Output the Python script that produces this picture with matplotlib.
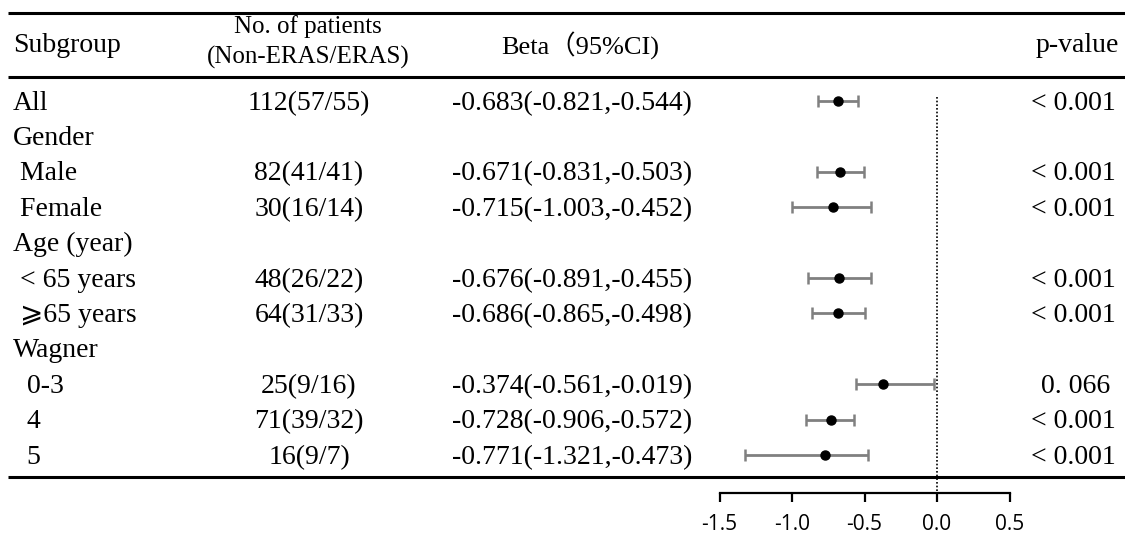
import matplotlib
matplotlib.use('Agg')
import matplotlib.pyplot as plt
import numpy as np

# table data
labels = ['All', 'Gender', ' Male', ' Female', 'Age (year)', ' < 65 years', ' \u2A7E65 years',
          'Wagner', '  0-3', '  4', '  5']
patients = ['112(57/55)', '', '82(41/41)', '30(16/14)', '', '48(26/22)', '64(31/33)',
            '', '25(9/16)', '71(39/32)', '16(9/7)']
beta_txt = ['-0.683(-0.821,-0.544)', '', '-0.671(-0.831,-0.503)', '-0.715(-1.003,-0.452)', '',
            '-0.676(-0.891,-0.455)', '-0.686(-0.865,-0.498)', '',
            '-0.374(-0.561,-0.019)', '-0.728(-0.906,-0.572)', '-0.771(-1.321,-0.473)']
pvals = ['< 0.001', '', '< 0.001', '< 0.001', '', '< 0.001', '< 0.001', '', '0. 066', '< 0.001', '< 0.001']

# forest values (rows with an estimate)
est_rows = [0, 2, 3, 5, 6, 8, 9, 10]
est = [-0.683, -0.671, -0.715, -0.676, -0.686, -0.374, -0.728, -0.771]
lo = [-0.821, -0.831, -1.003, -0.891, -0.865, -0.561, -0.906, -1.321]
hi = [-0.544, -0.503, -0.452, -0.455, -0.498, -0.019, -0.572, -0.473]
xticks = [-1.5, -1.0, -0.5, 0.0, 0.5]

W, H = 1125, 533
y0, dy = 101, 35.4   # pixel y of first row, row spacing
def row(py):
    return (py - y0) / dy

serif = ['Liberation Serif', 'DejaVu Serif', 'Noto Sans CJK SC', 'DejaVu Sans']
ty = 0.06  # small downward nudge of text

fig = plt.figure(figsize=(W / 100, H / 100), dpi=100)
ax = fig.add_axes([0, 0, 1, 1])
ax.set_xlim(0, W)
ax.set_ylim(row(H), row(0))
ax.axis('off')

# horizontal rules
for py in [13, 77, 477]:
    ax.plot([8, W], [row(py), row(py)], color='black', lw=2.2, solid_capstyle='butt')

# header
ax.text(13, row(46), 'Subgroup', fontsize=20, family=serif, va='center', ha='left')
ax.text(308, row(42), 'No. of patients\n(Non-ERAS/ERAS)', fontsize=18, family=serif,
        va='center', ha='center', linespacing=1.45)
ax.text(580, row(46), 'Beta\uFF0895%CI)', fontsize=19, family=serif, va='center', ha='center')
ax.text(1119, row(46), 'p-value', fontsize=20, family=serif, va='center', ha='right')

for i in range(len(labels)):
    ax.text(13, i + ty, labels[i], fontsize=20, family=serif, va='center', ha='left')
    ax.text(309, i + ty, patients[i], fontsize=20, family=serif, va='center', ha='center')
    ax.text(572, i + ty, beta_txt[i], fontsize=20, family=serif, va='center', ha='center')
    ax.text(1116 if pvals[i] != '0. 066' else 1110, i + ty, pvals[i], fontsize=20, family=serif,
            va='center', ha='right')

# forest plot
x0, sc = 937, 145.0  # pixel x of zero, pixels per unit
ax2 = fig.add_axes([0, 0, 1, 1])
ax2.set_xlim(-x0 / sc, (W - x0) / sc)
ax2.set_ylim(row(H), row(0))
ax2.patch.set_visible(False)
for s in ['top', 'left', 'right']:
    ax2.spines[s].set_visible(False)
ax2.spines['bottom'].set_position(('data', row(493)))
ax2.spines['bottom'].set_bounds(-1.5, 0.5)
ax2.spines['bottom'].set_linewidth(1.6)
ax2.set_yticks([])
ax2.set_xticks(xticks)
ax2.set_xticklabels(['%.1f' % t for t in xticks], family='Open Sans', fontsize=15)
ax2.tick_params(axis='x', direction='out', length=6.5, width=1.6, pad=8.5)

ax2.plot([0, 0], [row(97), row(493)], color='black', lw=1.2, ls=(0, (1, 1.2)))

est_a = np.array(est)
ax2.errorbar(est_a, est_rows, xerr=[est_a - np.array(lo), np.array(hi) - est_a],
             fmt='o', color='black', ecolor='#808080', elinewidth=2, capsize=4,
             capthick=1.8, markersize=6.5)

fig.savefig('out.png', dpi=100)
